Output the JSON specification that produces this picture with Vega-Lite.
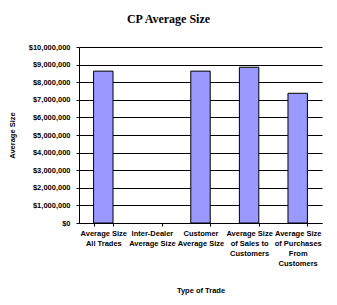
{
  "$schema": "https://vega.github.io/schema/vega-lite/v6.json",
  "autosize": {"type": "none"},
  "width": 243,
  "height": 176,
  "padding": {"left": 79, "top": 47, "right": 15, "bottom": 82},
  "background": "white",
  "title": {
    "text": "CP Average Size",
    "font": "Liberation Serif",
    "fontSize": 12,
    "fontWeight": "bold",
    "color": "black",
    "anchor": "middle",
    "dx": -32,
    "offset": 17
  },
  "data": {
    "values": [
      {"trade": "Average Size|All Trades", "size": 8630000},
      {"trade": "Inter-Dealer|Average Size", "size": null},
      {"trade": "Customer|Average Size", "size": 8630000},
      {"trade": "Average Size|of Sales to|Customers", "size": 8850000},
      {"trade": "Average Size|of Purchases|From|Customers", "size": 7370000}
    ]
  },
  "mark": {"type": "bar", "fill": "#9999FF", "stroke": "black", "strokeWidth": 1},
  "encoding": {
    "x": {
      "field": "trade",
      "type": "nominal",
      "sort": null,
      "scale": {
        "domain": ["Average Size|All Trades", "Inter-Dealer|Average Size", "Customer|Average Size", "Average Size|of Sales to|Customers", "Average Size|of Purchases|From|Customers"],
        "paddingInner": 0.6,
        "paddingOuter": 0.3
      },
      "axis": {
        "title": "Type of Trade",
        "labelAngle": 0,
        "labelExpr": "split(datum.label, '|')",
        "labelLineHeight": 10,
        "labelFont": "Liberation Sans",
        "labelFontSize": 7.5,
        "labelFontWeight": "bold",
        "labelColor": "black",
        "labelPadding": 3,
        "labelBaseline": "top",
        "tickBand": "extent",
        "tickSize": 3,
        "tickColor": "black",
        "domainColor": "black",
        "titleFont": "Liberation Sans",
        "titleFontSize": 7.5,
        "titleFontWeight": "bold",
        "titleColor": "black",
        "titlePadding": 20
      }
    },
    "y": {
      "field": "size",
      "type": "quantitative",
      "scale": {"domain": [0, 10000000]},
      "axis": {
        "title": "Average Size",
        "values": [0, 1000000, 2000000, 3000000, 4000000, 5000000, 6000000, 7000000, 8000000, 9000000, 10000000],
        "format": "$,.0f",
        "grid": true,
        "gridColor": "black",
        "gridOpacity": 1,
        "domainColor": "black",
        "tickColor": "black",
        "tickSize": 3,
        "labelPadding": 6,
        "labelFont": "Liberation Sans",
        "labelFontSize": 7.5,
        "labelFontWeight": "bold",
        "labelColor": "black",
        "titleFont": "Liberation Sans",
        "titleFontSize": 7.5,
        "titleFontWeight": "bold",
        "titleColor": "black",
        "titlePadding": 12
      }
    }
  },
  "config": {"view": {"stroke": null}}
}
